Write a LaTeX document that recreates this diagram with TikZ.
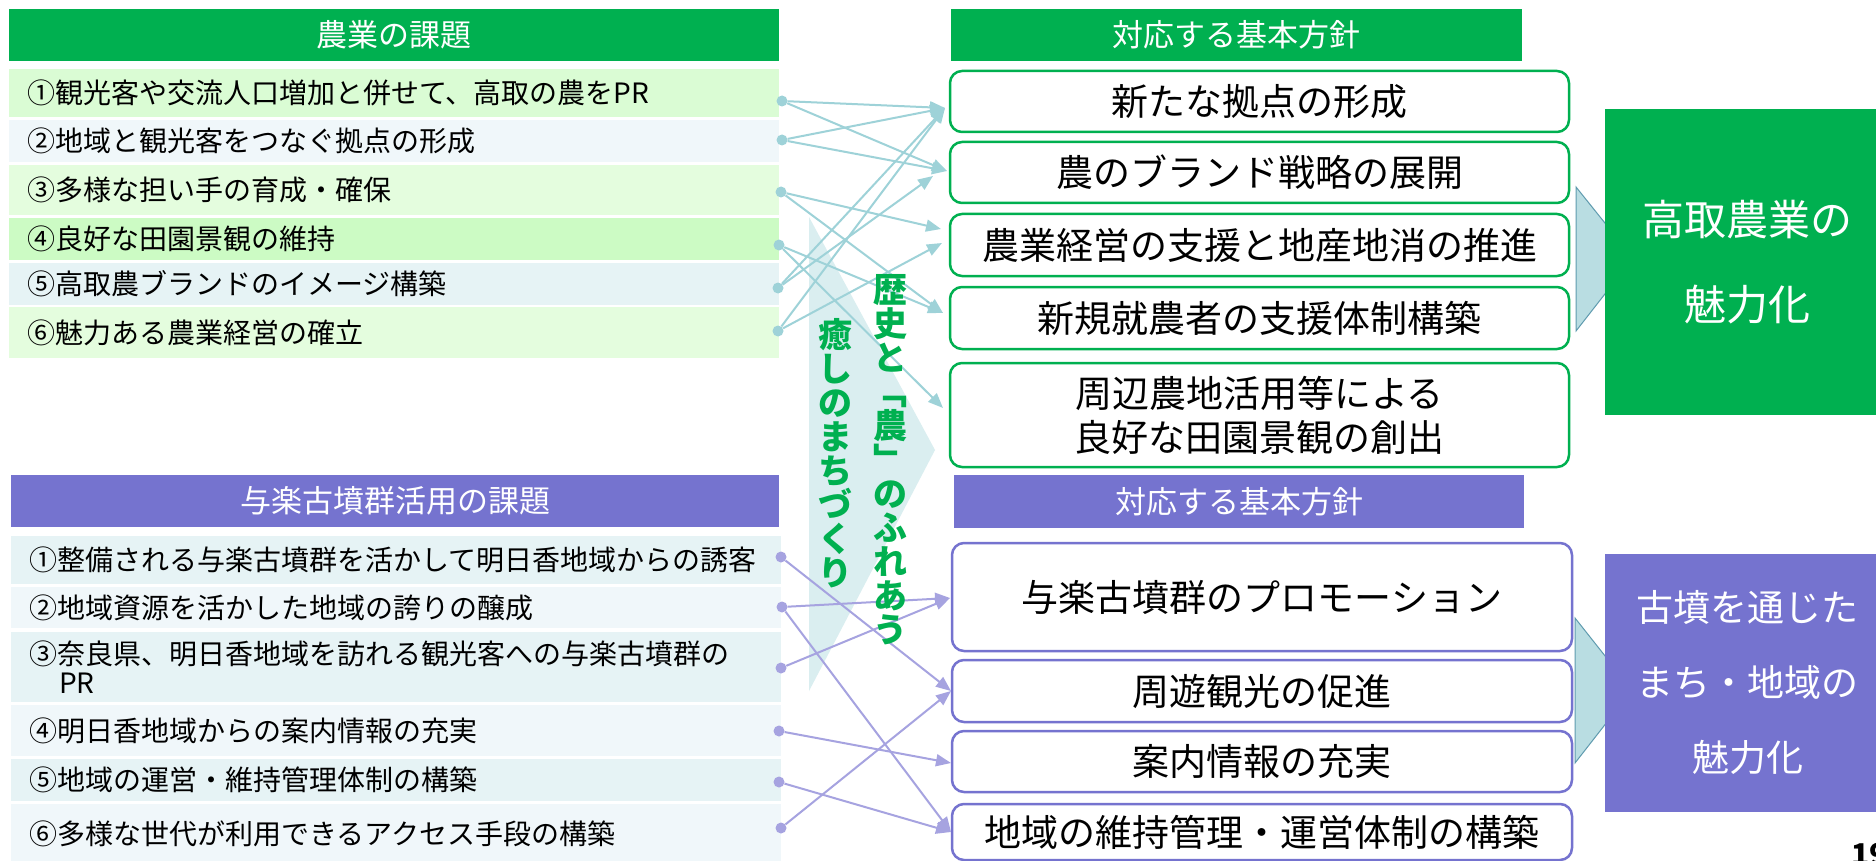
\documentclass[tikz,border=0pt]{standalone}
\usepackage{fontspec}
\setmainfont{Noto Sans CJK JP}
\usetikzlibrary{arrows.meta}
\definecolor{hgreen}{RGB}{0,176,80}
\definecolor{hpurple}{RGB}{117,115,207}
\definecolor{gline}{RGB}{158,210,216}
\definecolor{pline}{RGB}{166,163,224}
\definecolor{gra}{RGB}{218,252,212}
\definecolor{grb}{RGB}{240,247,250}
\definecolor{grc}{RGB}{228,253,222}
\definecolor{grd}{RGB}{204,251,196}
\definecolor{gre}{RGB}{230,243,245}
\definecolor{pra}{RGB}{230,243,245}
\definecolor{prb}{RGB}{240,247,250}
\definecolor{chev}{RGB}{218,238,240}
\definecolor{schev}{RGB}{185,221,226}
\definecolor{schevb}{RGB}{95,155,175}
\newcommand\fsz[2]{\fontsize{#1}{#2}\selectfont}
\begin{document}
\begin{tikzpicture}[x=1pt,y=-1pt,
  hdr/.style={fill=#1, text=white, inner sep=0pt, font=\fsz{31}{36}},
  rowbox/.style={fill=#1, anchor=west, inner xsep=18pt, inner ysep=0pt, text width=734pt, align=left, font=\fsz{28}{29}},
  polbox/.style={draw=#1, line width=2.5pt, rounded corners=12pt, fill=white, inner sep=0pt, align=center, font=\fsz{37}{44}},
  bigbox/.style={fill=#1, inner sep=0pt, text=white, align=center},
  vtext/.style={text=hgreen, font=\fsz{34}{34}\bfseries, align=center, inner sep=0pt},
  gdot/.style={circle, fill=gline, inner sep=0pt, minimum size=11pt},
  pdot/.style={circle, fill=pline, inner sep=0pt, minimum size=11pt},
  garrow/.style={draw=gline, line width=2pt, -{Triangle[length=15pt,width=12pt]}},
  parrow/.style={draw=pline, line width=2pt, -{Triangle[length=15pt,width=12pt]}}
]
\useasboundingbox (0,0) rectangle (1876,861);
\fill[white] (0,0) rectangle (1876,861);

% ---------- left headers ----------
\node[hdr=hgreen, minimum width=770pt, minimum height=52pt] (gh) at (394,35) {農業の課題};
\node[hdr=hpurple, minimum width=768pt, minimum height=52pt] (ph) at (395,501) {与楽古墳群活用の課題};

% ---------- green rows ----------
\node[rowbox=gra, minimum height=48pt] (g1) at (9,93) {①観光客や交流人口増加と併せて、高取の農をPR};
\node[rowbox=grb, minimum height=42pt] (g2) at (9,141) {②地域と観光客をつなぐ拠点の形成};
\node[rowbox=grc, minimum height=50pt] (g3) at (9,190) {③多様な担い手の育成・確保};
\node[rowbox=grd, minimum height=42pt] (g4) at (9,239) {④良好な田園景観の維持};
\node[rowbox=gre, minimum height=42pt] (g5) at (9,284) {⑤高取農ブランドのイメージ構築};
\node[rowbox=grc, minimum height=51pt] (g6) at (9,332.5) {⑥魅力ある農業経営の確立};

% ---------- purple rows ----------
\node[rowbox=pra, minimum height=48pt] (q1) at (11,560) {①整備される与楽古墳群を活かして明日香地域からの誘客};
\node[rowbox=prb, minimum height=41pt] (q2) at (11,607.5) {②地域資源を活かした地域の誇りの醸成};
\node[rowbox=pra, minimum height=70pt] (q3) at (11,667) {③奈良県、明日香地域を訪れる観光客への与楽古墳群の\\\hspace*{30pt}PR};
\node[rowbox=prb, minimum height=51pt] (q4) at (11,730.5) {④明日香地域からの案内情報の充実};
\node[rowbox=pra, minimum height=42pt] (q5) at (11,780) {⑤地域の運営・維持管理体制の構築};
\node[rowbox=prb, minimum height=60pt] (q6) at (11,834) {⑥多様な世代が利用できるアクセス手段の構築};

% ---------- right headers ----------
\node[hdr=hgreen, minimum width=571pt, minimum height=52pt] (gh2) at (1236.5,35) {対応する基本方針};
\node[hdr=hpurple, minimum width=570pt, minimum height=53pt] (ph2) at (1239,501.5) {対応する基本方針};

% ---------- policy boxes ----------
\node[polbox=hgreen, minimum width=619pt, minimum height=61pt] (b1) at (1259.5,101.5) {新たな拠点の形成};
\node[polbox=hgreen, minimum width=619pt, minimum height=61pt] (b2) at (1259.5,172.5) {農のブランド戦略の展開};
\node[polbox=hgreen, minimum width=619pt, minimum height=62pt] (b3) at (1259.5,245) {農業経営の支援と地産地消の推進};
\node[polbox=hgreen, minimum width=619pt, minimum height=62pt] (b4) at (1259.5,318) {新規就農者の支援体制構築};
\node[polbox=hgreen, minimum width=619pt, minimum height=104pt] (b5) at (1259.5,415) {周辺農地活用等による\\良好な田園景観の創出};

\node[polbox=hpurple, minimum width=620pt, minimum height=108pt] (c1) at (1262,597) {与楽古墳群のプロモーション};
\node[polbox=hpurple, minimum width=620pt, minimum height=62pt] (c2) at (1262,691) {周遊観光の促進};
\node[polbox=hpurple, minimum width=620pt, minimum height=61pt] (c3) at (1262,761.5) {案内情報の充実};
\node[polbox=hpurple, minimum width=620pt, minimum height=56pt] (c4) at (1262,832) {地域の維持管理・運営体制の構築};

% ---------- small chevrons ----------
\path[fill=schev, draw=schevb, line width=1pt] (1576,187) -- (1633,258) -- (1576,331) -- cycle;
\path[fill=schev, draw=schevb, line width=1pt] (1575,618) -- (1632,690) -- (1575,763) -- cycle;

% ---------- big result boxes ----------
\node[bigbox=hgreen, minimum width=285pt, minimum height=306pt, font=\fsz{42}{85}] (gbig) at (1747.5,262) {高取農業の\\魅力化};
\node[bigbox=hpurple, minimum width=285pt, minimum height=258pt, font=\fsz{37}{75}] (pbig) at (1747.5,683) {古墳を通じた\\まち・地域の\\魅力化};

% ---------- central chevron ----------
\fill[chev] (809,217) -- (935,450) -- (809,691) -- cycle;

% ---------- dots ----------
\node[gdot] (d1) at (782,101) {};
\node[gdot] (d2) at (782,140) {};
\node[gdot] (d3) at (781,192) {};
\node[gdot] (d4) at (779,245) {};
\node[gdot] (d5) at (778,288) {};
\node[gdot] (d6) at (778,331) {};

\node[pdot] (e1) at (781,557) {};
\node[pdot] (e2) at (782,607) {};
\node[pdot] (e3) at (781,668) {};
\node[pdot] (e4) at (779,731) {};
\node[pdot] (e5) at (779,782) {};
\node[pdot] (e6) at (781,828) {};

% ---------- arrow tips ----------
\coordinate (t1) at (945,108);
\coordinate (t2) at (947,171);
\coordinate (t2b) at (933,176);
\coordinate (t3) at (941,229);
\coordinate (t3b) at (942,243);
\coordinate (t4) at (943,313);
\coordinate (t5) at (943,408);

\coordinate (u1) at (950,598);
\coordinate (u2) at (951,691);
\coordinate (u3) at (951,763);
\coordinate (u4) at (951,832);

% ---------- green connectors ----------
\draw[garrow] (d1) -- (t1);
\draw[garrow] (d1) -- (t2);
\draw[garrow] (d2) -- (t1);
\draw[garrow] (d2) -- (t2);
\draw[garrow] (d3) -- (t3);
\draw[garrow] (d3) -- (t4);
\draw[garrow] (d4) -- (t4);
\draw[garrow] (d4) -- (t5);
\draw[garrow] (d5) -- (t1);
\draw[garrow] (d5) -- (t2b);
\draw[garrow] (d6) -- (t1);
\draw[garrow] (d6) -- (t3b);

% ---------- purple connectors ----------
\draw[parrow] (e1) -- (u2);
\draw[parrow] (e2) -- (u1);
\draw[parrow] (e2) -- (u4);
\draw[parrow] (e3) -- (u1);
\draw[parrow] (e4) -- (u3);
\draw[parrow] (e5) -- (u4);
\draw[parrow] (e6) -- (u2);

% ---------- vertical slogan ----------
\node[vtext] (v1) at (890,460) {歴\\史\\と\\﹁\\農\\﹂\\の\\ふ\\れ\\あ\\う};
\node[vtext] (v2) at (835,453) {癒\\し\\の\\ま\\ち\\づ\\く\\り};

% ---------- page number ----------
\node[anchor=north west, inner sep=0pt, font=\fsz{30}{30}\bfseries] (pg) at (1851,843) {19};
\end{tikzpicture}
\end{document}
